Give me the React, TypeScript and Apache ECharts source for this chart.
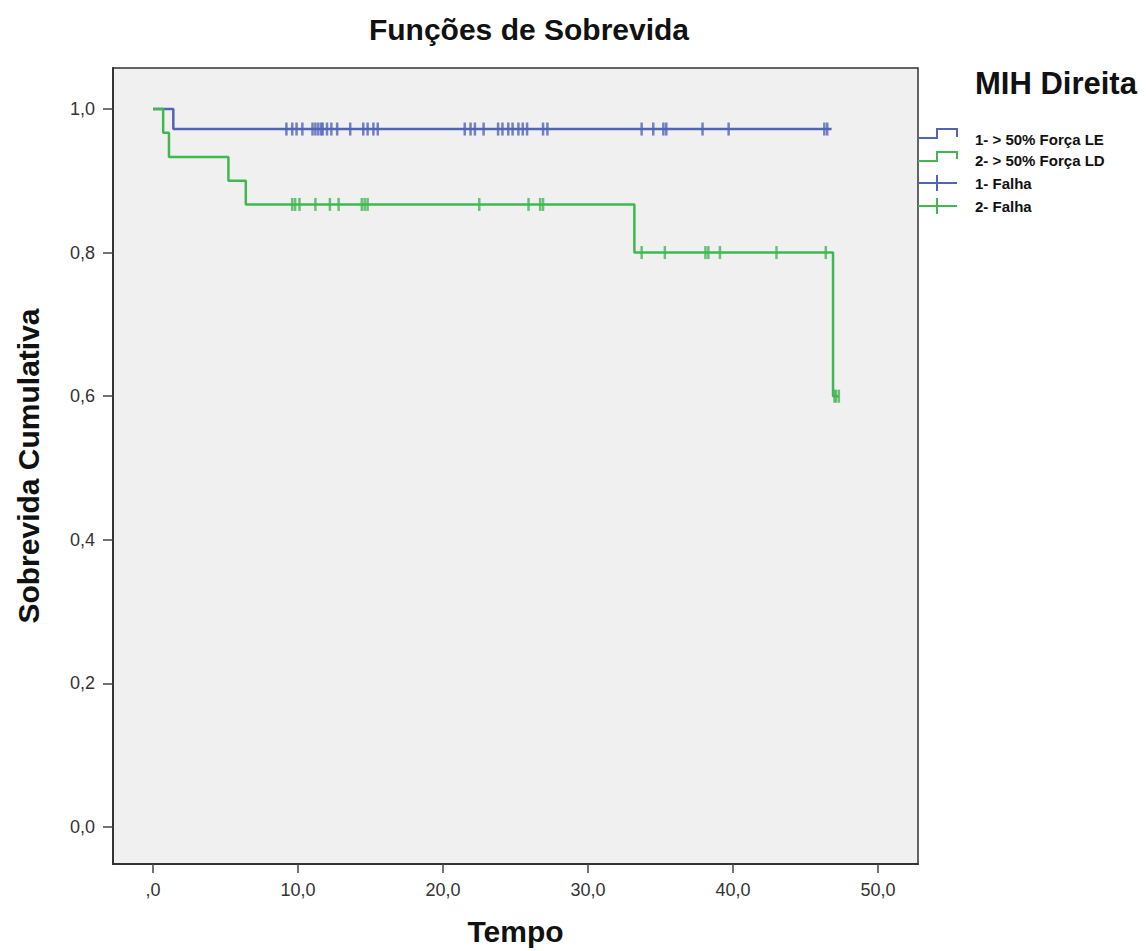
import React, { useEffect, useRef } from "react";
import * as echarts from "echarts";

// Kaplan-Meier steps (time at which survival changes, survival after step)
const blueStepTimes = [0, 1.4];
const blueStepSurv = [1.0, 0.972];
const blueEnd = 46.8;
const blueCensor = [
  9.2, 9.6, 9.9, 10.3, 11.0, 11.2, 11.4, 11.6, 11.7, 12.0, 12.3, 12.7, 13.6,
  14.5, 14.8, 15.2, 15.5, 21.5, 21.9, 22.2, 22.8, 23.8, 24.1, 24.5, 24.8, 25.2,
  25.5, 25.8, 26.9, 27.2, 33.7, 34.5, 35.2, 35.4, 37.9, 39.7, 46.3, 46.5,
];

const greenStepTimes = [0, 0.7, 1.1, 5.2, 6.4, 33.2, 46.9];
const greenStepSurv = [1.0, 0.967, 0.933, 0.9, 0.867, 0.8, 0.6];
const greenEnd = 47.3;
const greenCensor = [
  9.6, 9.8, 10.1, 11.2, 12.2, 12.8, 14.4, 14.6, 14.8, 22.5, 25.9, 26.7, 26.9,
  33.7, 35.3, 38.1, 38.3, 39.1, 43.0, 46.4, 47.0, 47.1, 47.3,
];

const xTicks = [0, 10, 20, 30, 40, 50];
const yTicks = [0, 0.2, 0.4, 0.6, 0.8, 1.0];

const seriesNames = ["1- > 50% Força LE", "2- > 50% Força LD", "1- Falha", "2- Falha"];
const legendTitle = "MIH Direita";
const chartTitle = "Funções de Sobrevida";
const xName = "Tempo";
const yName = "Sobrevida Cumulativa";

const BLUE = "#5064b8";
const GREEN = "#40b850";
const FONT = "Liberation Sans";

function stepLine(times: number[], surv: number[], end: number) {
  const pts = times.map((t, i) => [t, surv[i]]);
  pts.push([end, surv[surv.length - 1]]);
  return pts;
}
function survAt(times: number[], surv: number[], t: number) {
  let s = surv[0];
  for (let i = 0; i < times.length; i++) if (times[i] <= t) s = surv[i];
  return s;
}

export default function App() {
  const ref = useRef<HTMLDivElement>(null);
  useEffect(() => {
    if (!ref.current) return;
    const chart = echarts.init(ref.current, undefined, { renderer: "svg" });
    const fmt = (v: number) => (v === 0 ? ",0" : v.toFixed(1).replace(".", ","));
    const legendText = (text: string, y: number) => ({
      type: "text",
      x: 975,
      y,
      style: { text, fontSize: 15, fontWeight: "bold", fill: "#111", fontFamily: FONT, verticalAlign: "middle" },
    });
    chart.setOption({
      animation: false,
      backgroundColor: "#ffffff",
      textStyle: { fontFamily: FONT },
      grid: {
        left: 113,
        right: 228,
        top: 68,
        bottom: 85,
        show: true,
        backgroundColor: "#f0f0f0",
        borderColor: "#333",
        borderWidth: 1.5,
      },
      xAxis: {
        type: "value",
        min: -2.76,
        max: 52.76,
        axisLine: { show: true, onZero: false, lineStyle: { color: "#333", width: 2 } },
        axisTick: { show: true, customValues: xTicks, length: 9, lineStyle: { color: "#444", width: 1.5 } },
        axisLabel: {
          customValues: xTicks,
          formatter: fmt,
          fontSize: 18,
          color: "#333",
          margin: 17,
          fontFamily: FONT,
        },
        splitLine: { show: false },
        name: xName,
        nameLocation: "middle",
        nameGap: 52,
        nameTextStyle: { fontSize: 30, fontWeight: "bold", color: "#111", fontFamily: FONT },
      },
      yAxis: {
        type: "value",
        min: -0.0514,
        max: 1.057,
        axisLine: { show: true, onZero: false, lineStyle: { color: "#333", width: 2 } },
        axisTick: { show: true, customValues: yTicks, length: 10, lineStyle: { color: "#444", width: 1.5 } },
        axisLabel: {
          customValues: yTicks,
          formatter: (v: number) => v.toFixed(1).replace(".", ","),
          fontSize: 18,
          color: "#333",
          margin: 18,
          fontFamily: FONT,
        },
        splitLine: { show: false },
        name: yName,
        nameLocation: "middle",
        nameGap: 70,
        nameTextStyle: { fontSize: 30, fontWeight: "bold", color: "#111", fontFamily: FONT },
      },
      title: {
        text: chartTitle,
        left: 524,
        top: 9,
        textAlign: "center",
        textStyle: { fontSize: 30, fontWeight: "bold", color: "#111", fontFamily: FONT },
      },
      series: [
        {
          name: seriesNames[0],
          type: "line",
          step: "end",
          showSymbol: false,
          data: stepLine(blueStepTimes, blueStepSurv, blueEnd),
          lineStyle: { color: BLUE, width: 2.5 },
          itemStyle: { color: BLUE },
          z: 2,
        },
        {
          name: seriesNames[1],
          type: "line",
          step: "end",
          showSymbol: false,
          data: stepLine(greenStepTimes, greenStepSurv, greenEnd),
          lineStyle: { color: GREEN, width: 2.5 },
          itemStyle: { color: GREEN },
          z: 3,
        },
        {
          name: seriesNames[2],
          type: "scatter",
          symbol: "rect",
          symbolSize: [2.5, 13],
          data: blueCensor.map((t) => [t, survAt(blueStepTimes, blueStepSurv, t)]),
          itemStyle: { color: BLUE },
          z: 4,
        },
        {
          name: seriesNames[3],
          type: "scatter",
          symbol: "rect",
          symbolSize: [2.5, 13],
          data: greenCensor.map((t) => [t, survAt(greenStepTimes, greenStepSurv, t)]),
          itemStyle: { color: GREEN },
          z: 5,
        },
      ],
      graphic: [
        {
          type: "text",
          x: 975,
          y: 83,
          style: { text: legendTitle, fontSize: 31, fontWeight: "bold", fill: "#111", fontFamily: FONT, verticalAlign: "middle" },
        },
        {
          type: "polyline",
          shape: { points: [[918, 138], [937, 138], [937, 129], [957, 129], [957, 137]] },
          style: { stroke: BLUE, lineWidth: 2, fill: "none" },
        },
        legendText(seriesNames[0], 139),
        {
          type: "polyline",
          shape: { points: [[918, 161], [937, 161], [937, 152], [957, 152], [957, 159]] },
          style: { stroke: GREEN, lineWidth: 2, fill: "none" },
        },
        legendText(seriesNames[1], 160),
        { type: "line", shape: { x1: 918, y1: 183, x2: 957, y2: 183 }, style: { stroke: BLUE, lineWidth: 2 } },
        { type: "line", shape: { x1: 937, y1: 175, x2: 937, y2: 191 }, style: { stroke: BLUE, lineWidth: 2 } },
        legendText(seriesNames[2], 183),
        { type: "line", shape: { x1: 918, y1: 206, x2: 957, y2: 206 }, style: { stroke: GREEN, lineWidth: 2 } },
        { type: "line", shape: { x1: 937, y1: 198, x2: 937, y2: 214 }, style: { stroke: GREEN, lineWidth: 2 } },
        legendText(seriesNames[3], 206),
      ],
    });
    return () => chart.dispose();
  }, []);
  return (
    <div
      ref={ref}
      style={{ position: "fixed", left: 0, top: 0, width: 1146, height: 951 }}
    />
  );
}
